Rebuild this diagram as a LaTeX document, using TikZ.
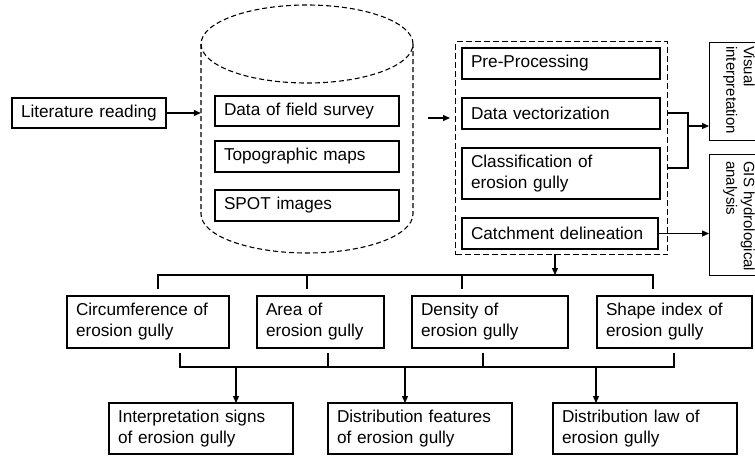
\documentclass[tikz,border=0pt]{standalone}
\usepackage{fontspec}
\setmainfont{Liberation Sans}
\usetikzlibrary{arrows.meta}
\tikzset{
  ln/.style={line width=1.2pt},
  arr/.style={line width=1.2pt,-{Triangle[length=7pt,width=6pt]}},
  bx/.style={draw,line width=1.2pt,inner sep=0pt,align=left,font=\fontsize{17.2}{21}\selectfont},
  dsh/.style={line width=1.1pt,dash pattern=on 5pt off 3pt},
  rot/.style={rotate=-90,align=left,inner sep=0pt,font=\fontsize{15}{17.5}\selectfont}
}
\newcommand\mybox[6]{%
  \pgfmathsetmacro\gw{#4-#2}\pgfmathsetmacro\gh{#5-#3}\pgfmathsetmacro\gtw{#4-#2-18}%
  \node[bx,minimum width=\gw pt,minimum height=\gh pt,text width=\gtw pt] (#1) at ({(#2+#4)/2},{(#3+#5)/2}) {#6};}
\begin{document}
\begin{tikzpicture}[x=1pt,y=-1pt]
\useasboundingbox (0,0) rectangle (755,456);
\clip (0,0) rectangle (755,456);
% literature
\mybox{lit}{12}{98}{166}{128}{Literature reading}
% cylinder
\node[inner sep=0pt,minimum width=212pt,minimum height=248pt] (cyl) at (307,129) {};
\draw[dsh] (307,44) ellipse [x radius=106pt, y radius=39pt];
\draw[dsh] (201,44) -- (201,214) arc[start angle=180,end angle=360,x radius=106pt,y radius=39pt] -- (413,44);
\mybox{dfs}{215}{96}{399}{126}{Data of field survey}
\mybox{tm}{215}{141}{399}{172}{Topographic maps}
\mybox{spot}{215}{190}{399}{221}{SPOT images}
% processing box
\node[draw,dsh,line width=1.2pt,dash pattern=on 6pt off 3pt,inner sep=0pt,minimum width=212pt,minimum height=213pt,anchor=north west] (proc) at (455,41) {};
\mybox{pre}{462}{48}{660}{79}{Pre-Processing}
\mybox{dv}{462}{98}{660}{129}{Data vectorization}
\mybox{cl}{462}{148}{660}{199}{Classification of\\erosion gully}
\mybox{cd}{462}{218}{658}{249}{Catchment delineation}
% right boxes
\node[draw,line width=1.2pt,inner sep=0pt,minimum width=70pt,minimum height=98pt,anchor=north west] (vis) at (709,42) {};
\node[draw,line width=1.2pt,inner sep=0pt,minimum width=70pt,minimum height=121pt,anchor=north west] (gis) at (709,154) {};
\node[rot,anchor=north west] (vist) at (755,46) {Visual\\interpretation};
\node[rot,anchor=north west] (gist) at (755,161) {GIS hydrological\\analysis};
% second row
\mybox{circ}{67}{296}{229}{348}{Circumference of\\erosion gully}
\mybox{area}{257}{296}{384}{348}{Area of\\erosion gully}
\mybox{dens}{412}{296}{568}{348}{Density of\\erosion gully}
\mybox{shape}{597}{296}{752}{348}{Shape index of\\erosion gully}
% third row
\mybox{sig}{109}{403}{293}{454}{Interpretation signs\\of erosion gully}
\mybox{feat}{328}{403}{512}{454}{Distribution features\\of erosion gully}
\mybox{law}{553}{403}{737}{454}{Distribution law of\\erosion gully}
% connectors
\draw[arr] (lit.east) -- (lit.east -| cyl.west);
\coordinate (c1) at (428,118);
\coordinate (c2) at (450,118);
\draw[arr] (c1) -- (c2);
\coordinate (dvo) at (667,113);
\coordinate (clo) at (667,168);
\coordinate (jv) at (688,126);
\draw[ln] (dvo) -| (jv) |- (clo);
\draw[arr] (jv) -- (jv -| vis.west);
\draw[arr] (cd.east) -- (cd.east -| gis.west);
\coordinate (pb) at (555,254);
\coordinate (pb2) at (555,275);
\draw[arr] (pb) -- (pb2);
\draw[ln] (158,289) |- (653,275) -- (653,289);
\draw[ln] (307,275) -- (307,289);
\draw[ln] (462,275) -- (462,289);
\draw[ln] (180,353) |- (674,367) -- (674,353);
\draw[ln] (328,353) -- (328,367);
\draw[ln] (483,353) -- (483,367);
\draw[arr] (236,367) -- (236,403);
\draw[arr] (405,367) -- (405,403);
\draw[arr] (596,367) -- (596,403);
\end{tikzpicture}
\end{document}
